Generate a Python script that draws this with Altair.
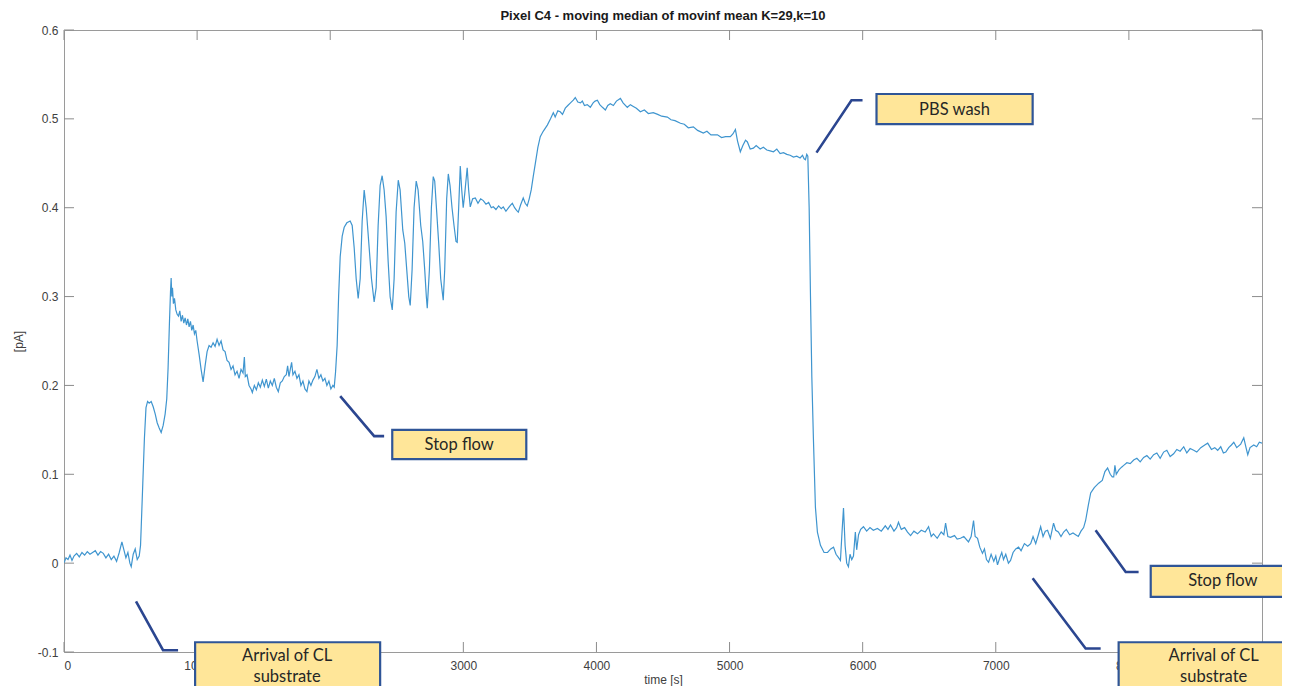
import altair as alt
import pandas as pd

# ---------------- data ----------------
TIME = [0, 15, 30, 45, 60, 75, 95, 115, 135, 155, 175, 195, 215, 235, 255, 275, 295, 315, 335, 355,
        375, 395, 415, 435, 450, 465, 480, 495, 505, 520, 535, 550, 565, 575,
        580, 592, 604, 616, 628, 640, 655, 670, 685, 700, 715, 730, 745, 760, 772, 782, 792, 800, 805, 810, 815, 822, 830,
        840, 850, 860, 870, 880, 890, 900, 910, 920, 930, 940, 950, 960, 970, 980, 990, 1000, 1015, 1030, 1045,
        1060, 1075, 1090, 1105, 1120, 1135, 1150, 1165, 1180, 1195, 1210, 1225, 1240, 1255, 1270, 1285, 1300,
        1315, 1330, 1345, 1355, 1362, 1375, 1390, 1405, 1415, 1430, 1445, 1460, 1475, 1490, 1505, 1520, 1535,
        1550, 1565, 1580, 1595, 1610, 1625, 1640, 1655, 1670, 1680, 1690, 1700, 1710, 1720, 1735, 1750, 1765,
        1780, 1795, 1810, 1825, 1840, 1855, 1870, 1885, 1900, 1915, 1930, 1945, 1960, 1975, 1990, 2005, 2020, 2030,
        2040, 2052, 2063, 2075, 2090, 2105, 2125, 2150, 2165, 2180, 2195, 2210, 2225, 2240, 2255, 2270, 2290,
        2310, 2330, 2345, 2360, 2375, 2390, 2405, 2420, 2435, 2450, 2466, 2480, 2495, 2511, 2525, 2545, 2560,
        2575, 2590, 2601, 2615, 2630, 2646, 2660, 2680, 2695, 2710, 2722, 2729, 2745, 2760, 2774, 2785, 2800,
        2815, 2830, 2849, 2860, 2875, 2887, 2900, 2915, 2930, 2945, 2954, 2965, 2977, 2988, 2999, 3010, 3029, 3040, 3052,
        3070, 3090, 3110, 3130, 3150, 3170, 3190, 3210, 3225, 3245, 3265, 3285, 3300, 3320, 3340, 3355, 3368,
        3385, 3400, 3413, 3430, 3450, 3465, 3480, 3495,
        3510, 3525, 3541, 3560, 3578, 3600, 3631, 3655, 3676, 3690, 3710, 3728, 3745, 3766, 3785, 3805, 3826,
        3841, 3860, 3880, 3894, 3910, 3931, 3954, 3975, 3990, 4007, 4025, 4045, 4067, 4085, 4104, 4127, 4150,
        4180, 4200, 4232, 4255, 4277, 4300, 4330, 4360, 4390, 4427, 4460, 4490, 4533, 4560, 4590, 4631, 4660,
        4690, 4728, 4760, 4803, 4830, 4860, 4909, 4940, 4970, 5006, 5025, 5044, 5060, 5081, 5100, 5120, 5134,
        5155, 5179, 5200, 5230, 5254, 5280, 5305, 5330, 5355, 5380, 5405, 5430, 5455, 5480, 5505, 5530, 5548,
        5560, 5570, 5580, 5588,
        5598, 5608, 5618, 5630, 5645, 5660, 5683, 5710, 5736, 5760, 5781, 5800, 5820, 5833, 5845, 5856, 5868,
        5880, 5893, 5905, 5918, 5931, 5945, 5955, 5969, 5985, 6006,
        6030, 6055, 6080, 6111, 6140, 6170, 6190, 6209, 6235, 6255, 6269, 6290, 6315, 6337, 6360, 6385, 6412,
        6440, 6470, 6495, 6515, 6532, 6560, 6590, 6610, 6623, 6640, 6660, 6690, 6710, 6735, 6760, 6795, 6815,
        6833, 6845, 6863, 6880, 6900, 6915, 6930, 6946, 6965, 6985, 7000, 7013, 7030, 7045, 7058, 7075, 7095,
        7111, 7130, 7150, 7171, 7190, 7215, 7240, 7262, 7280, 7300, 7320, 7337, 7355, 7372, 7389, 7410, 7434,
        7450, 7470, 7490, 7510, 7530, 7555, 7580, 7600, 7620, 7640, 7660, 7675,
        7695, 7713, 7740, 7773, 7800, 7820, 7840, 7860, 7875, 7886, 7895, 7905, 7925, 7945, 7961, 7985, 8010,
        8036, 8060, 8085, 8111, 8135, 8160, 8186, 8210, 8235, 8261, 8285, 8310, 8336, 8360, 8385, 8412, 8435,
        8460, 8487, 8510, 8540, 8570, 8592, 8620, 8645, 8667, 8690, 8710, 8728, 8750, 8770, 8788, 8810, 8840,
        8863, 8880, 8893, 8910, 8938, 8960, 8980, 9000]

CURRENT = [0.000, 0.006, 0.004, 0.009, 0.003, 0.008, 0.011, 0.007, 0.012, 0.009, 0.013, 0.010, 0.012, 0.014, 0.009, 0.013, 0.011, 0.006, 0.010, 0.004,
           0.008, 0.002, 0.012, 0.024, 0.015, 0.006, 0.012, 0.000, -0.004, 0.010, 0.016, 0.004, 0.008, 0.020,
           0.040, 0.090, 0.140, 0.175, 0.182, 0.180, 0.182, 0.176, 0.168, 0.158, 0.152, 0.147, 0.155, 0.168, 0.185, 0.220, 0.270, 0.305, 0.321, 0.300, 0.310, 0.292, 0.298,
           0.285, 0.280, 0.278, 0.284, 0.272, 0.279, 0.270, 0.276, 0.268, 0.275, 0.266, 0.272, 0.262, 0.268, 0.258, 0.262, 0.250, 0.235, 0.218, 0.204,
           0.222, 0.238, 0.245, 0.243, 0.248, 0.244, 0.252, 0.245, 0.250, 0.240, 0.238, 0.228, 0.226, 0.218, 0.222, 0.212, 0.216,
           0.208, 0.218, 0.214, 0.232, 0.210, 0.212, 0.200, 0.196, 0.192, 0.200, 0.195, 0.203, 0.198, 0.206, 0.199, 0.207, 0.197,
           0.205, 0.200, 0.208, 0.198, 0.193, 0.203, 0.205, 0.210, 0.212, 0.222, 0.210, 0.218, 0.226, 0.212, 0.216, 0.208, 0.212,
           0.200, 0.205, 0.196, 0.193, 0.205, 0.200, 0.206, 0.210, 0.218, 0.208, 0.212, 0.205, 0.208, 0.200, 0.205, 0.196, 0.200, 0.198,
           0.215, 0.245, 0.300, 0.345, 0.368, 0.378, 0.383, 0.385, 0.380, 0.355, 0.320, 0.298, 0.320, 0.385, 0.420, 0.400, 0.360,
           0.320, 0.294, 0.310, 0.380, 0.425, 0.436, 0.420, 0.390, 0.340, 0.300, 0.285, 0.320, 0.395, 0.431, 0.420, 0.375, 0.360,
           0.330, 0.300, 0.290, 0.330, 0.400, 0.430, 0.420, 0.380, 0.362, 0.330, 0.300, 0.287, 0.330, 0.400, 0.435, 0.430, 0.395,
           0.360, 0.320, 0.296, 0.330, 0.410, 0.438, 0.425, 0.400, 0.380, 0.362, 0.361, 0.400, 0.447, 0.420, 0.400, 0.415, 0.445, 0.420, 0.401,
           0.410, 0.411, 0.405, 0.410, 0.408, 0.404, 0.406, 0.400, 0.401, 0.398, 0.402, 0.399, 0.401, 0.396, 0.400, 0.403, 0.405,
           0.400, 0.397, 0.395, 0.403, 0.411, 0.405, 0.402, 0.410,
           0.420, 0.435, 0.450, 0.468, 0.480, 0.486, 0.493, 0.500, 0.507, 0.502, 0.509, 0.508, 0.505, 0.512, 0.515, 0.518, 0.521,
           0.524, 0.519, 0.518, 0.520, 0.515, 0.516, 0.513, 0.518, 0.520, 0.521, 0.516, 0.513, 0.510, 0.515, 0.517, 0.515, 0.520,
           0.523, 0.518, 0.513, 0.516, 0.514, 0.512, 0.508, 0.510, 0.506, 0.507, 0.505, 0.503, 0.502, 0.499, 0.498, 0.495, 0.494,
           0.490, 0.491, 0.487, 0.484, 0.486, 0.482, 0.482, 0.479, 0.480, 0.480, 0.483, 0.488, 0.475, 0.463, 0.470, 0.476, 0.474,
           0.466, 0.467, 0.470, 0.466, 0.468, 0.465, 0.464, 0.463, 0.466, 0.461, 0.462, 0.460, 0.459, 0.457, 0.458, 0.456, 0.459,
           0.455, 0.454, 0.460, 0.458,
           0.400, 0.300, 0.210, 0.140, 0.063, 0.035, 0.020, 0.012, 0.012, 0.016, 0.018, 0.010, 0.006, 0.003, 0.035, 0.062, 0.020,
           0.000, -0.004, 0.010, 0.004, 0.008, 0.035, 0.015, 0.032, 0.038, 0.041,
           0.036, 0.040, 0.037, 0.039, 0.036, 0.042, 0.038, 0.043, 0.036, 0.040, 0.046, 0.038, 0.040, 0.035, 0.031, 0.036, 0.033,
           0.037, 0.035, 0.041, 0.030, 0.033, 0.028, 0.035, 0.032, 0.045, 0.030, 0.029, 0.031, 0.027, 0.028, 0.030, 0.024, 0.030,
           0.048, 0.030, 0.028, 0.018, 0.011, 0.016, 0.004, 0.001, 0.010, 0.002, 0.008, -0.002, 0.006, 0.012, 0.004, 0.010, 0.000,
           0.003, 0.012, 0.016, 0.018, 0.014, 0.022, 0.019, 0.022, 0.030, 0.022, 0.032, 0.041, 0.030, 0.036, 0.037, 0.028, 0.045,
           0.037, 0.035, 0.030, 0.035, 0.038, 0.032, 0.034, 0.032, 0.030, 0.036, 0.040, 0.048,
           0.065, 0.079, 0.085, 0.090, 0.093, 0.103, 0.107, 0.100, 0.097, 0.097, 0.110, 0.100, 0.105, 0.108, 0.110, 0.113, 0.112,
           0.116, 0.118, 0.114, 0.119, 0.121, 0.117, 0.122, 0.124, 0.118, 0.125, 0.127, 0.120, 0.123, 0.128, 0.126, 0.131, 0.124,
           0.129, 0.127, 0.125, 0.130, 0.133, 0.135, 0.128, 0.130, 0.127, 0.131, 0.124, 0.125, 0.130, 0.133, 0.136, 0.130, 0.134,
           0.141, 0.130, 0.122, 0.130, 0.133, 0.131, 0.136, 0.135]

X_TICKS = [0, 1000, 2000, 3000, 4000, 5000, 6000, 7000, 8000, 9000]
X_HIDDEN = [2000, 9000]          # tick labels fully covered by the callout boxes
Y_TICKS = [-0.1, 0.0, 0.1, 0.2, 0.3, 0.4, 0.5, 0.6]

TITLE = "Pixel C4 - moving median of movinf mean K=29,k=10"
X_TITLE = "time [s]"
Y_TITLE = "[pA]"

# annotations (leader paths and boxes in data units)
LEADER_NAME = ["arr1", "arr1", "arr1", "sf1", "sf1", "sf1", "pbs", "pbs", "pbs",
               "sf2", "sf2", "sf2", "arr2", "arr2", "arr2"]
LEADER_T = [541, 744, 857, 2075, 2330, 2405, 5653, 5916, 5999, 7750, 7976, 8073, 7277, 7675, 7788]
LEADER_V = [-0.043, -0.098, -0.098, 0.188, 0.143, 0.143, 0.462, 0.521, 0.521,
            0.037, -0.010, -0.010, -0.017, -0.096, -0.096]

BOX_T1 = [985, 2466, 6104, 8164, 7923]
BOX_T2 = [2375, 3473, 7277, 9300, 9300]
BOX_V1 = [-0.089, 0.150, 0.528, -0.003, -0.089]
BOX_V2 = [-0.190, 0.117, 0.494, -0.038, -0.190]

LABEL_TEXT = ["Arrival of CL", "substrate", "Stop flow", "PBS wash", "Stop flow", "Arrival of CL", "substrate"]
LABEL_T = [1676, 1676, 2969, 6690, 8705, 8637, 8637]
LABEL_V = [-0.1040, -0.1280, 0.133, 0.510, -0.020, -0.1040, -0.1280]

# ---------------- chart ----------------
W, H = 1198, 622
TICK = 10
FONT = "Liberation Sans"
BOX_FONT = "Lato"

xs = alt.Scale(domain=[0, 9000], nice=False, zero=False)
ys = alt.Scale(domain=[-0.1, 0.6], nice=False, zero=False)

hidden_expr = " || ".join(f"datum.value == {v}" for v in X_HIDDEN)
X_AXIS = alt.Axis(values=X_TICKS, title=X_TITLE, labelPadding=8,
                  labelExpr=f"({hidden_expr}) ? '' : format(datum.value, 'd')",
                  titlePadding=3, grid=False, ticks=False, domain=False,
                  labelFont=FONT, labelFontSize=12, labelColor="#404040",
                  titleFont=FONT, titleFontSize=12, titleFontWeight="normal", titleColor="#404040")
Y_AXIS = alt.Axis(values=Y_TICKS, title=Y_TITLE, labelPadding=6, titlePadding=12,
                  labelExpr="datum.value == 0 ? '0' : replace(format(datum.value, '.1f'), '\u2212', '-')",
                  grid=False, ticks=False, domain=False,
                  labelFont=FONT, labelFontSize=12, labelColor="#404040",
                  titleFont=FONT, titleFontSize=12, titleFontWeight="normal", titleColor="#404040")

def X(field):
    return alt.X(field, scale=xs, axis=X_AXIS)

def Y(field):
    return alt.Y(field, scale=ys, axis=Y_AXIS)

df = pd.DataFrame({"t": TIME, "v": CURRENT})

line = alt.Chart(df).mark_line(color="#3F95CF", strokeWidth=1.2, clip=True).encode(
    x=X("t:Q"), y=Y("v:Q"))

xt = pd.DataFrame({"t": X_TICKS})
yt = pd.DataFrame({"v": Y_TICKS})
tick_color = "#8c8c8c"
xtick_b = alt.Chart(xt).mark_rule(color=tick_color, strokeWidth=1).encode(
    x=X("t:Q"), y=alt.value(H), y2=alt.value(H - TICK))
xtick_t = alt.Chart(xt).mark_rule(color=tick_color, strokeWidth=1).encode(
    x=X("t:Q"), y=alt.value(0), y2=alt.value(TICK))
ytick_l = alt.Chart(yt).mark_rule(color=tick_color, strokeWidth=1).encode(
    y=Y("v:Q"), x=alt.value(0), x2=alt.value(TICK))
ytick_r = alt.Chart(yt).mark_rule(color=tick_color, strokeWidth=1).encode(
    y=Y("v:Q"), x=alt.value(W), x2=alt.value(W - TICK))

ld = pd.DataFrame({"name": LEADER_NAME, "t": LEADER_T, "v": LEADER_V,
                   "o": list(range(len(LEADER_T)))})
leaders = alt.Chart(ld).mark_line(color="#2B4690", strokeWidth=2.6, clip=False).encode(
    x=X("t:Q"), y=Y("v:Q"), detail="name:N", order="o:Q")

bd = pd.DataFrame({"t": BOX_T1, "t2": BOX_T2, "v": BOX_V1, "v2": BOX_V2})
boxes = alt.Chart(bd).mark_rect(fill="#FFE699", stroke="#2F5597", strokeWidth=2.2, clip=False).encode(
    x=X("t:Q"), x2="t2:Q", y=Y("v:Q"), y2="v2:Q")

lab = pd.DataFrame({"text": LABEL_TEXT, "t": LABEL_T, "v": LABEL_V})
labels = alt.Chart(lab).mark_text(font=BOX_FONT, fontSize=16.5, color="#262626",
                                  align="center", baseline="middle", clip=False).encode(
    x=X("t:Q"), y=Y("v:Q"), text="text:N")

chart = alt.layer(line, xtick_b, xtick_t, ytick_l, ytick_r, leaders, boxes, labels).properties(
    width=W, height=H,
    background="white",
    title=alt.TitleParams(TITLE, font=FONT, fontSize=13, fontWeight="bold", color="#1a1a1a",
                          anchor="middle", offset=1),
    autosize=alt.AutoSizeParams(type="none"),
    padding={"left": 56, "top": 22, "right": 20, "bottom": 34},
).configure_view(stroke="#9a9a9a", strokeWidth=1)

chart.save("out.html", embed_options={"renderer": "svg", "actions": False})
